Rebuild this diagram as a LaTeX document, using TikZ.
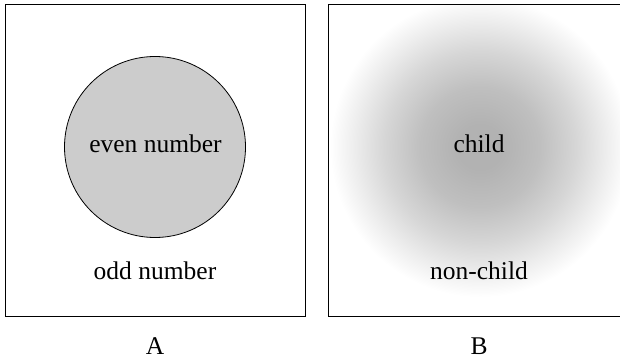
\documentclass[tikz,border=0pt]{standalone}
\usepackage{fontspec}
\setmainfont{Liberation Serif}
\pgfdeclareradialshading{blob}{\pgfpoint{0bp}{0bp}}{color(0bp)=(black!30); color(4bp)=(black!30); color(10bp)=(black!25); color(16bp)=(black!16); color(21bp)=(black!7); color(25bp)=(white); color(50bp)=(white)}
\begin{document}
\begin{tikzpicture}[x=1pt,y=1pt,
  lbl/.style={font=\fontsize{25.5}{30}\selectfont, inner sep=0pt, anchor=base},
  frame/.style={draw=black, line width=1pt}]
\useasboundingbox (0,0) rectangle (620,359);
% left panel
\draw[frame] (5,43) rectangle (305,354);
\draw[draw=black, line width=0.8pt, fill=black!20] (155,212) circle (90.5);
\node[lbl] (even) at (155.5,206) {even number};
\node[lbl] (odd) at (155,80) {odd number};
\node[lbl] (A) at (155,5) {A};
% right panel
\begin{scope}
  \clip (328,43) rectangle (620,354);
  \path[shading=blob] (480,212) circle (150);
\end{scope}
\draw[frame] (621,354) -| (328,43) -- (621,43);
\node[lbl] (child) at (479,206) {child};
\node[lbl] (nonchild) at (479,80) {non-child};
\node[lbl] (B) at (479,5) {B};
\end{tikzpicture}
\end{document}
